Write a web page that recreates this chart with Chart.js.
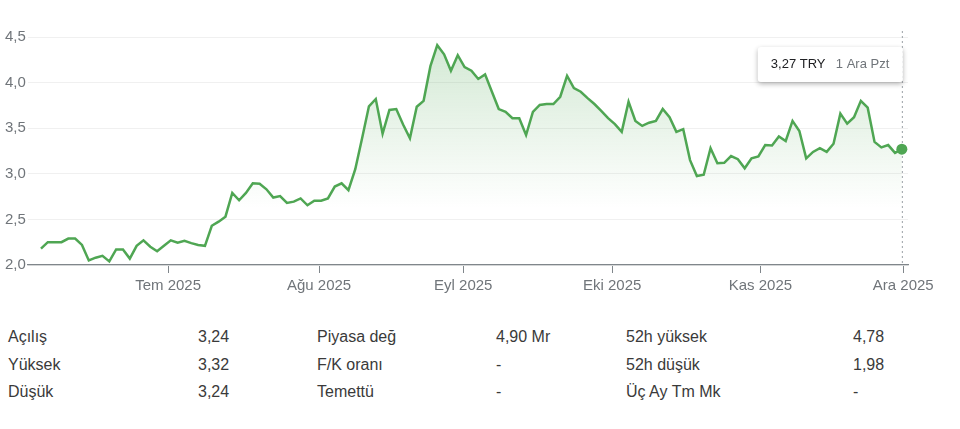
<!DOCTYPE html>
<html>
<head>
<meta charset="utf-8">
<script src="https://cdn.jsdelivr.net/npm/chart.js@4.4.1/dist/chart.umd.min.js"></script>
<style>
  body { margin: 0; background: #fff; font-family: "Liberation Sans", Arial, sans-serif; }
  #wrap { position: absolute; left: 0; top: 0; width: 960px; height: 300px; }
  .cell { position: absolute; font-size: 16px; color: #3a3a3a; line-height: 20px; white-space: nowrap; }
</style>
</head>
<body>
<div id="wrap"><canvas id="priceChart"></canvas></div>
<div id="stats"></div>
<script>
// closing prices, one per trading day (5 Haz 2025 - 1 Ara 2025)
var prices = [
  2.18, 2.25, 2.25, 2.25, 2.29, 2.29, 2.22, 2.05, 2.08, 2.10,
  2.04, 2.17, 2.17, 2.07, 2.21, 2.27, 2.20, 2.15, 2.21, 2.27,
  2.245, 2.265, 2.24, 2.22, 2.21, 2.43, 2.475, 2.53, 2.79, 2.71,
  2.79, 2.895, 2.89, 2.83, 2.74, 2.755, 2.68, 2.695, 2.73, 2.655,
  2.705, 2.705, 2.73, 2.86, 2.895, 2.82, 3.05, 3.39, 3.74, 3.82,
  3.44, 3.70, 3.71, 3.54, 3.39, 3.735, 3.80, 4.18, 4.41, 4.31,
  4.13, 4.30, 4.17, 4.13, 4.04, 4.09, 3.90, 3.71, 3.68, 3.61,
  3.61, 3.425, 3.68, 3.755, 3.765, 3.765, 3.845, 4.075, 3.94, 3.90,
  3.83, 3.765, 3.69, 3.61, 3.545, 3.46, 3.79, 3.58, 3.525, 3.56,
  3.58, 3.71, 3.62, 3.46, 3.49, 3.15, 2.975, 2.99, 3.28, 3.115,
  3.12, 3.195, 3.16, 3.06, 3.17, 3.19, 3.315, 3.31, 3.41, 3.36,
  3.58, 3.47, 3.17, 3.24, 3.28, 3.24, 3.33, 3.66, 3.55, 3.62,
  3.80, 3.725, 3.35, 3.29, 3.315, 3.23, 3.27
];

// month ticks (position in trading-day index)
var monthPos = [18.6, 40.7, 61.8, 83.6, 105.3, 126.2];
var monthLabels = ['Tem 2025', 'Ağu 2025', 'Eyl 2025', 'Eki 2025', 'Kas 2025', 'Ara 2025'];

var tooltipPrice = '3,27 TRY';
var tooltipDate = '1 Ara Pzt';

// stats table
var statLabels1 = ['Açılış', 'Yüksek', 'Düşük'];
var statValues1 = ['3,24', '3,32', '3,24'];
var statLabels2 = ['Piyasa değ', 'F/K oranı', 'Temettü'];
var statValues2 = ['4,90 Mr', '-', '-'];
var statLabels3 = ['52h yüksek', '52h düşük', 'Üç Ay Tm Mk'];
var statValues3 = ['4,78', '1,98', '-'];

var lineColor = '#4fa653';
var last = prices.length - 1;

var cols = [
  [8, statLabels1], [198, statValues1],
  [317, statLabels2], [496, statValues2],
  [626, statLabels3], [853, statValues3]
];
var stats = document.getElementById('stats');
cols.forEach(function (c) {
  c[1].forEach(function (txt, r) {
    var d = document.createElement('div');
    d.className = 'cell';
    d.style.left = c[0] + 'px';
    d.style.top = (327 + r * 27.5) + 'px';
    d.textContent = txt;
    stats.appendChild(d);
  });
});

var hoverPlugin = {
  id: 'hoverBox',
  afterDatasetsDraw: function (chart) {
    var ctx = chart.ctx;
    var ca = chart.chartArea;
    var px = chart.scales.x.getPixelForValue(last);
    var py = chart.scales.y.getPixelForValue(prices[last]);
    ctx.save();
    // dotted cursor line
    ctx.strokeStyle = '#9aa0a6';
    ctx.lineWidth = 1;
    ctx.setLineDash([2, 3]);
    ctx.beginPath();
    ctx.moveTo(px + 0.5, ca.top - 6);
    ctx.lineTo(px + 0.5, ca.bottom);
    ctx.stroke();
    ctx.setLineDash([]);
    // marker
    ctx.fillStyle = lineColor;
    ctx.beginPath();
    ctx.arc(px, py, 5.5, 0, Math.PI * 2);
    ctx.fill();
    // box
    var w = 145, h = 35, bx = px + 1 - w, by = ca.top + 10;
    ctx.shadowColor = 'rgba(0,0,0,0.3)';
    ctx.shadowBlur = 5;
    ctx.shadowOffsetY = 2;
    ctx.fillStyle = '#fff';
    ctx.beginPath();
    ctx.roundRect(bx, by, w, h, 3);
    ctx.fill();
    ctx.shadowColor = 'transparent';
    ctx.textBaseline = 'middle';
    ctx.font = '500 13px "Liberation Sans", Arial, sans-serif';
    ctx.fillStyle = '#202124';
    ctx.fillText(tooltipPrice, bx + 13, by + h / 2);
    ctx.font = '13px "Liberation Sans", Arial, sans-serif';
    ctx.fillStyle = '#70757a';
    ctx.fillText(tooltipDate, bx + 78, by + h / 2);
    ctx.restore();
  }
};

var ctx = document.getElementById('priceChart').getContext('2d');
var chart = new Chart(ctx, {
  type: 'line',
  data: {
    datasets: [{
      data: prices.map(function (v, i) { return { x: i, y: v }; }),
      borderColor: lineColor,
      borderWidth: 2.5,
      pointRadius: 0,
      tension: 0,
      fill: 'start',
      backgroundColor: function (c) {
        var ca = c.chart.chartArea;
        if (!ca) return 'rgba(0,0,0,0)';
        var g = c.chart.ctx.createLinearGradient(0, ca.top, 0, ca.bottom);
        g.addColorStop(0, 'rgba(79,166,83,0.26)');
        g.addColorStop(0.75, 'rgba(79,166,83,0)');
        return g;
      }
    }]
  },
  options: {
    responsive: true,
    maintainAspectRatio: false,
    animation: false,
    layout: { padding: { left: 5, right: 52, top: 37, bottom: 0 } },
    plugins: {
      legend: { display: false },
      tooltip: { enabled: false }
    },
    scales: {
      x: {
        type: 'linear',
        min: -1.9,
        max: 126.9,
        afterBuildTicks: function (axis) {
          axis.ticks = monthPos.map(function (p) { return { value: p }; });
        },
        afterFit: function (axis) { axis.height = 35; },
        grid: { drawOnChartArea: false, drawTicks: true, tickLength: 8, color: '#80868b' },
        border: { display: true, color: '#80868b', width: 1.2 },
        ticks: {
          padding: 4,
          maxRotation: 0,
          autoSkip: false,
          color: '#70757a',
          font: { family: '"Liberation Sans", Arial, sans-serif', size: 15 },
          callback: function (value, index) { return monthLabels[index]; }
        }
      },
      y: {
        min: 2,
        max: 4.5,
        afterFit: function (axis) { axis.width = 23; },
        grid: { color: '#f0f0f0', drawTicks: false },
        border: { display: false },
        ticks: {
          stepSize: 0.5,
          padding: 0,
          crossAlign: 'far',
          color: '#70757a',
          font: { family: '"Liberation Sans", Arial, sans-serif', size: 15 },
          callback: function (value) { return value.toFixed(1).replace('.', ','); }
        }
      }
    }
  },
  plugins: [hoverPlugin]
});
</script>
</body>
</html>
